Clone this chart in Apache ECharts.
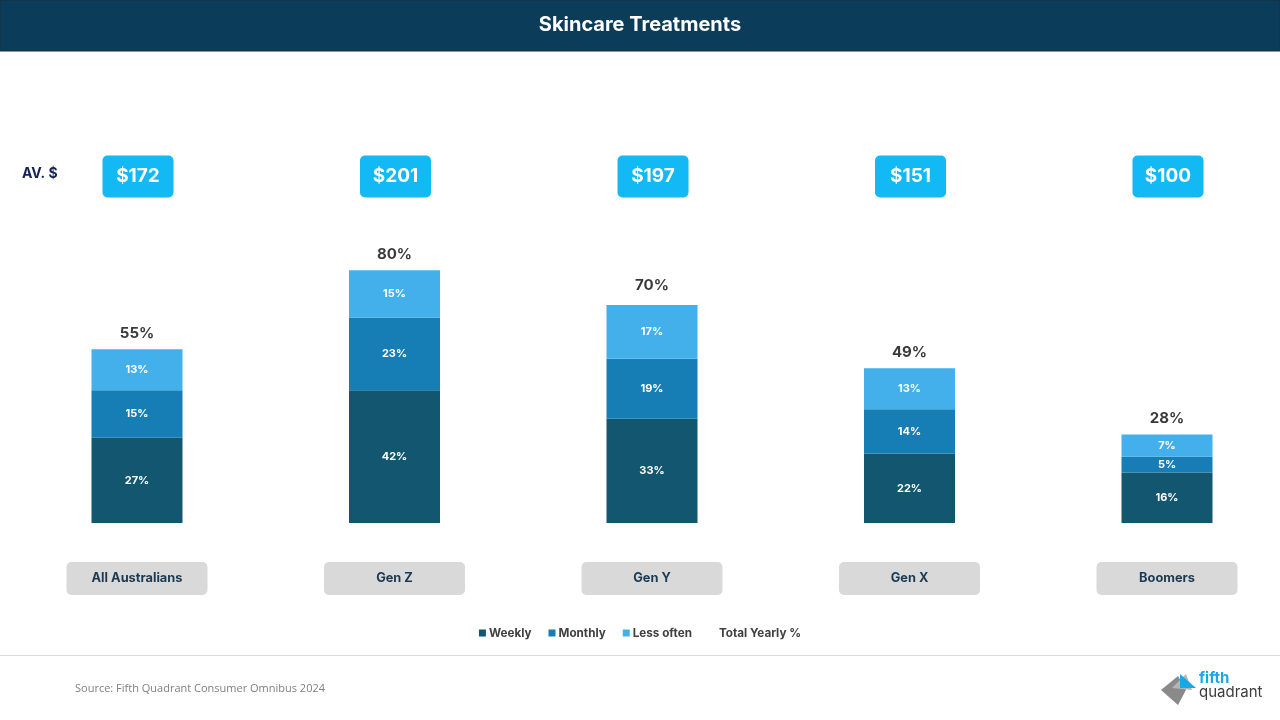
<!DOCTYPE html>
<html>
<head>
<meta charset="utf-8">
<script src="https://cdn.jsdelivr.net/npm/echarts@6/dist/echarts.min.js"></script>
<style>
  html, body { margin: 0; padding: 0; background: #fff; }
  #chart { width: 1280px; height: 720px; }
</style>
</head>
<body>
<div id="chart"></div>
<script>
const categories = ['All Australians', 'Gen Z', 'Gen Y', 'Gen X', 'Boomers']
const weekly = [27, 42, 33, 22, 16]
const monthly = [15, 23, 19, 14, 5]
const lessOften = [13, 15, 17, 13, 7]
const totalYearly = [55, 80, 70, 49, 28]
const avgSpend = [172, 201, 197, 151, 100]

const FONT = 'Inter, "Noto Sans", sans-serif'
const AVG_ROW = 110 // y value where the AV. $ boxes sit

const chart = echarts.init(document.getElementById('chart'))

const segLabel = {
  show: true,
  position: 'inside',
  color: '#fff',
  fontFamily: FONT,
  fontWeight: 'bold',
  fontSize: 11,
  formatter: '{c}%',
}

chart.setOption({
  animation: false,
  graphic: [
    { type: 'rect', shape: { x: 0, y: 0, width: 1280, height: 51 }, style: { fill: '#0b3c5a', stroke: '#1d2f3d', lineWidth: 1 } },
    { type: 'text', left: 'center', top: 15, style: { text: 'Skincare Treatments', fill: '#fff', font: 'bold 20px ' + FONT } },
    { type: 'text', left: 22, top: 167, style: { text: 'AV. $', fill: '#14225a', font: 'bold 14px ' + FONT } },
    { type: 'line', shape: { x1: 0, y1: 655.5, x2: 1280, y2: 655.5 }, style: { stroke: '#d9d9d9', lineWidth: 1 } },
    { type: 'text', left: 75, top: 683, style: { text: 'Source: Fifth Quadrant Consumer Omnibus 2024', fill: '#7f7f7f', font: '11px "Open Sans", sans-serif' } },
    // logo
    { type: 'polygon', shape: { points: [[1161, 690], [1178, 676], [1186, 690], [1178, 705]] }, style: { fill: '#8a8a8a' } },
    { type: 'polygon', shape: { points: [[1172, 688], [1186, 674], [1192, 690]] }, style: { fill: '#b5b5b5' } },
    { type: 'polygon', shape: { points: [[1180, 674], [1196, 688], [1180, 688]] }, style: { fill: '#1aa7e6' } },
    { type: 'text', left: 1199, top: 671, style: { text: 'fifth', fill: '#1aa7e6', font: 'bold 15px ' + FONT } },
    { type: 'text', left: 1199, top: 685, style: { text: 'quadrant', fill: '#3c3c3c', font: '15px ' + FONT } },
  ],
  legend: {
    bottom: 76,
    left: 'center',
    itemWidth: 7,
    itemHeight: 7,
    itemGap: 17,
    textStyle: { color: '#404040', fontFamily: FONT, fontWeight: 'bold', fontSize: 11.7, padding: [0, 0, 0, -2] },
    data: [
      { name: 'Weekly', icon: 'rect' },
      { name: 'Monthly', icon: 'rect' },
      { name: 'Less often', icon: 'rect' },
      { name: 'Total Yearly %', icon: 'none' },
    ],
  },
  grid: { left: 137, right: 113, top: 144, bottom: 197 },
  xAxis: {
    type: 'category',
    boundaryGap: false,
    data: categories,
    axisLine: { show: false },
    axisTick: { show: false },
    axisLabel: {
      margin: 39,
      color: '#1b3a52',
      fontFamily: FONT,
      fontWeight: 'bold',
      fontSize: 12.8,
      backgroundColor: '#d9d9d9',
      borderRadius: 5,
      width: 141,
      height: 13,
      align: 'center',
      padding: [10, 0, 10, 0],
    },
  },
  yAxis: { type: 'value', min: 0, max: 120, show: false, splitLine: { show: false } },
  series: [
    { name: 'Weekly', type: 'bar', stack: 'total', barWidth: 91, data: weekly, itemStyle: { color: '#12566f' }, label: segLabel },
    { name: 'Monthly', type: 'bar', stack: 'total', data: monthly, itemStyle: { color: '#177db5' }, label: segLabel },
    { name: 'Less often', type: 'bar', stack: 'total', data: lessOften, itemStyle: { color: '#44b0eb' }, label: segLabel },
    {
      name: 'Total Yearly %',
      type: 'line',
      data: totalYearly,
      symbol: 'circle',
      symbolSize: 1,
      lineStyle: { width: 0, color: 'rgba(0,0,0,0)' },
      itemStyle: { color: 'rgba(0,0,0,0)' },
      label: { show: true, position: 'top', distance: 8, formatter: '{c}%', color: '#3a3a3a', fontFamily: FONT, fontWeight: 'bold', fontSize: 15 },
    },
    {
      name: 'AV. $',
      type: 'scatter',
      clip: false,
      symbolSize: 1,
      itemStyle: { color: 'rgba(0,0,0,0)', opacity: 1 },
      data: avgSpend.map((v, i) => ({ value: [categories[i], AVG_ROW], spend: v })),
      label: {
        show: true,
        position: 'inside',
        offset: [1, 1],
        color: '#fff',
        fontFamily: FONT,
        fontWeight: 'bold',
        fontSize: 19,
        backgroundColor: '#13b9f5',
        borderRadius: 5,
        width: 71,
        height: 22,
        lineHeight: 22,
        align: 'center',
        padding: [10, 0, 10, 0],
        formatter: p => '$' + p.data.spend,
      },
    },
  ],
})

window.addEventListener('resize', () => chart.resize())
</script>
</body>
</html>
